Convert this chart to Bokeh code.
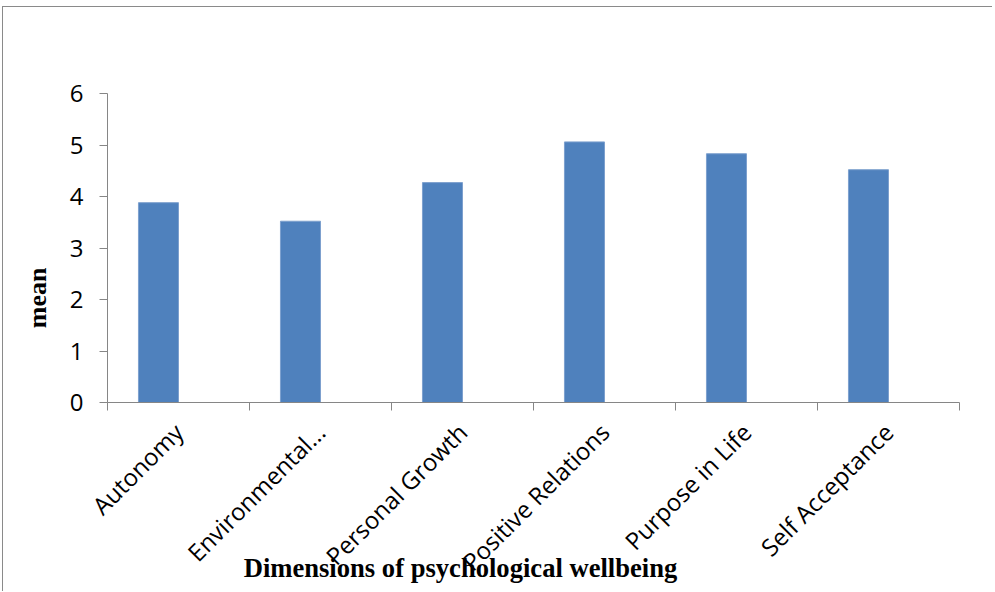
import math
from bokeh.plotting import figure
from bokeh.models import (Range1d, LinearAxis, FixedTicker, ColumnDataSource)
from bokeh.embed import file_html
from bokeh.resources import INLINE

categories = ["Autonomy", "Environmental...", "Personal Growth",
              "Positive Relations", "Purpose in Life", "Self Acceptance"]
means = [3.88, 3.52, 4.27, 5.06, 4.83, 4.52]
y_ticks = [0, 1, 2, 3, 4, 5, 6]
x_title = "Dimensions of psychological wellbeing"
y_title = "mean"

AXIS_GREY = "#868686"
BAR_BLUE = "#4F81BD"

n = len(categories)
idx = list(range(n))
centers = [i + 0.5 for i in idx]
bar_x = [c - 0.141 for c in centers]   # bars sit slightly left of each slot centre

src = ColumnDataSource(data=dict(x=bar_x, mean=means, cat=categories))

p = figure(width=990, height=585, x_range=Range1d(0, n),
           y_range=Range1d(0, 6), output_backend="svg", toolbar_location=None,
           x_axis_location=None, y_axis_location="left",
           min_border_left=104, min_border_right=34, min_border_top=86,
           min_border_bottom=189)
p.outline_line_color = None
p.grid.visible = False
p.styles = {"margin-left": "2px", "margin-top": "6px",
            "border-left": "1px solid #8a8a8a", "border-top": "1px solid #8a8a8a"}

p.vbar(x="x", top="mean", width=0.282, source=src,
       fill_color=BAR_BLUE, line_color="#7DA0CE", line_width=1)

# y axis
ya = p.yaxis[0]
ya.ticker = FixedTicker(ticks=y_ticks)
ya.minor_tick_line_color = None
ya.major_tick_in = 0
ya.major_tick_out = 8
ya.axis_line_color = AXIS_GREY
ya.major_tick_line_color = AXIS_GREY
ya.major_label_text_font = "Open Sans"
ya.major_label_text_font_size = "24px"
ya.major_label_text_color = "#000000"
ya.major_label_standoff = 16

# y title: a bare axis carrying one rotated label, sitting low on the left
mean_pos = 2.62
mean_axis = LinearAxis(ticker=FixedTicker(ticks=[mean_pos]),
                       axis_line_color=None, major_tick_line_color=None,
                       minor_tick_line_color=None, major_tick_out=0, major_tick_in=0,
                       major_label_orientation=math.pi / 2,
                       major_label_text_font="Liberation Serif",
                       major_label_text_font_style="bold",
                       major_label_text_font_size="26px",
                       major_label_text_color="#000000",
                       major_label_standoff=29)
mean_axis.major_label_overrides = {mean_pos: y_title}
p.add_layout(mean_axis, "left")

# boundary ticks axis (no labels)
edge_axis = LinearAxis(ticker=FixedTicker(ticks=list(range(n + 1))),
                       major_label_text_font_size="0px", major_tick_in=0,
                       major_tick_out=8, axis_line_color=AXIS_GREY,
                       major_tick_line_color=AXIS_GREY, minor_tick_line_color=None,
                       major_label_standoff=0)
edge_axis.major_label_overrides = {i: "" for i in range(n + 1)}
p.add_layout(edge_axis, "below")

# category label axis (labels at slot centres, no tick marks)
cat_axis = LinearAxis(ticker=FixedTicker(ticks=centers),
                      axis_line_color=None, major_tick_line_color=None,
                      minor_tick_line_color=None, major_tick_out=0, major_tick_in=0,
                      major_label_orientation=math.pi / 4,
                      major_label_text_font="Open Sans",
                      major_label_text_font_size="24px",
                      major_label_text_color="#000000",
                      major_label_standoff=17)
cat_axis.major_label_overrides = {c: name for c, name in zip(centers, categories)}
p.add_layout(cat_axis, "below")

# x title: a bare axis carrying one label, pulled up over the category labels
title_pos = 2.486
title_axis = LinearAxis(ticker=FixedTicker(ticks=[title_pos]),
                        axis_line_color=None, major_tick_line_color=None,
                        minor_tick_line_color=None, major_tick_out=0, major_tick_in=0,
                        major_label_text_font="Liberation Serif",
                        major_label_text_font_style="bold",
                        major_label_text_font_size="26.6px",
                        major_label_text_color="#000000",
                        major_label_standoff=-40)
title_axis.major_label_overrides = {title_pos: x_title}
p.add_layout(title_axis, "below")

open("out.html", "w").write(file_html(p, INLINE))
